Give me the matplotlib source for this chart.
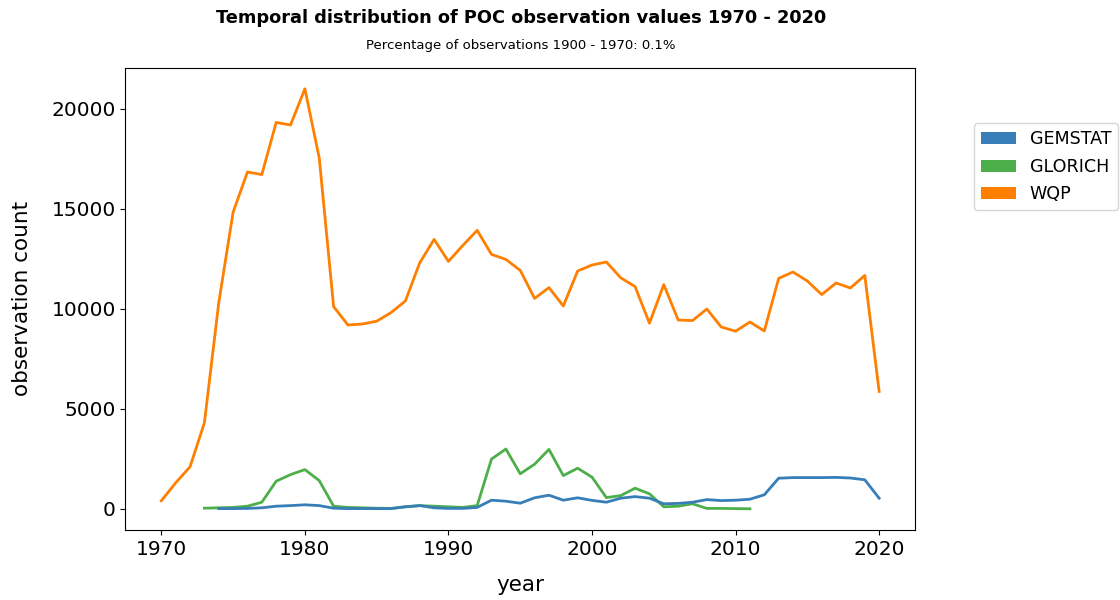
import numpy as np
import matplotlib.pyplot as plt
from matplotlib.patches import Patch

# yearly observation counts per source
years_wqp = list(range(1970, 2021))
wqp = [400, 1300, 2100, 4300, 10300, 14830, 16840, 16710, 19320, 19190,
       21000, 17540, 10110, 9190, 9240, 9380, 9810, 10390, 12300, 13470,
       12370, 13170, 13920, 12720, 12470, 11920, 10520, 11060, 10140, 11890,
       12190, 12340, 11550, 11110, 9280, 11210, 9440, 9410, 9990, 9090,
       8880, 9340, 8890, 11520, 11840, 11390, 10710, 11290, 11040, 11670,
       5870]

years_glorich = list(range(1973, 2012))
glorich = [30, 50, 70, 130, 330, 1380, 1710, 1960, 1410, 130,
           70, 50, 30, 20, 100, 160, 130, 100, 70, 160,
           2490, 2990, 1750, 2230, 2970, 1660, 2030, 1580, 560, 660,
           1030, 750, 100, 130, 250, 20, 20, 10, 0]

years_gemstat = list(range(1974, 2021))
gemstat = [10, 10, 20, 50, 130, 160, 200, 160, 30, 10,
           10, 10, 10, 100, 160, 50, 20, 20, 70, 430,
           380, 280, 550, 680, 430, 550, 420, 330, 530, 610,
           530, 250, 270, 330, 460, 410, 430, 480, 700, 1530,
           1560, 1560, 1560, 1570, 1540, 1450, 530]

sources = ['GEMSTAT', 'GLORICH', 'WQP']
colors = {'GEMSTAT': '#377eb8', 'GLORICH': '#4daf4a', 'WQP': '#ff7f00'}

fig = plt.figure(figsize=(11.2, 6), dpi=100)
ax = fig.add_axes([0.112, 0.117, 0.705, 0.77])

ax.plot(years_wqp, wqp, color=colors['WQP'], lw=2)
ax.plot(years_glorich, glorich, color=colors['GLORICH'], lw=2)
ax.plot(years_gemstat, gemstat, color=colors['GEMSTAT'], lw=2)

ax.set_xticks([1970, 1980, 1990, 2000, 2010, 2020])
ax.set_yticks([0, 5000, 10000, 15000, 20000])
ax.tick_params(labelsize=14.5)
ax.set_xlabel('year', fontsize=15.5, labelpad=12)
ax.set_ylabel('observation count', fontsize=15.5, labelpad=14)

fig.text(0.465, 0.962, 'Temporal distribution of POC observation values 1970 - 2020',
         ha='center', fontsize=12.8, fontweight='bold')
fig.text(0.465, 0.918, 'Percentage of observations 1900 - 1970: 0.1%',
         ha='center', fontsize=9.5)

handles = [Patch(facecolor=colors[s], label=s) for s in sources]
ax.legend(handles=handles, loc='upper left', bbox_to_anchor=(1.063, 0.899),
          fontsize=12.6, labelspacing=0.55)

fig.savefig('out.png', dpi=100)
